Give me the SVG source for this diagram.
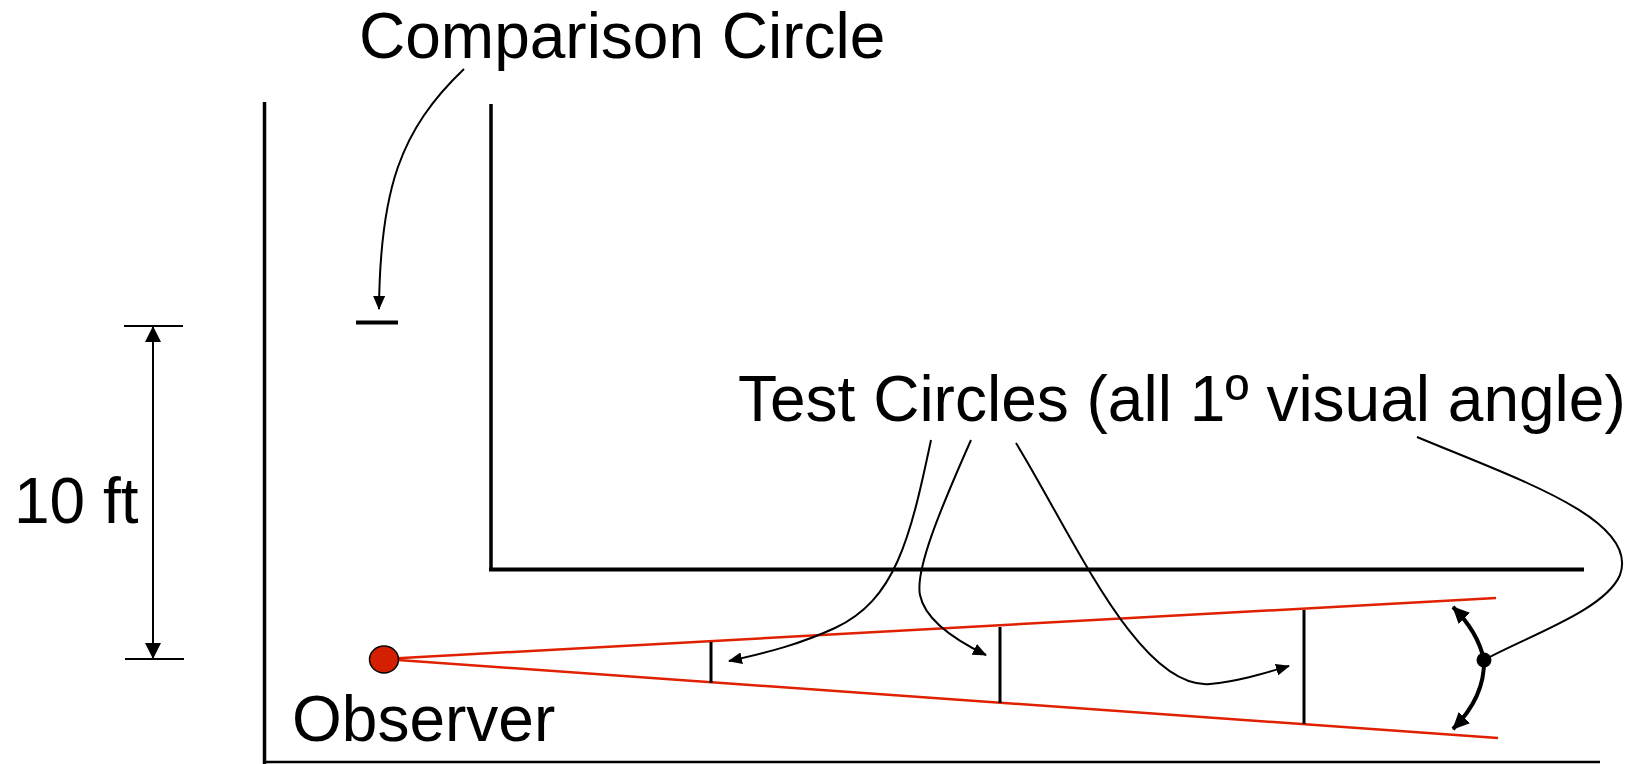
<svg xmlns="http://www.w3.org/2000/svg" width="1640" height="764" viewBox="0 0 1640 764">
<style>
text{font-family:"Liberation Sans",Arial,sans-serif;font-size:64px;fill:#000}
.wall{stroke:#000;stroke-width:3.5;fill:none}
.lead{stroke:#000;stroke-width:2;fill:none}
.ray{stroke:#e02000;stroke-width:2.5;fill:none}
.bar{stroke:#000;stroke-width:3}
</style>
<defs>
<marker id="ah" viewBox="0 0 14 12" refX="13" refY="6" markerWidth="14" markerHeight="12" markerUnits="userSpaceOnUse" orient="auto"><path d="M0,0 L14,6 L0,12 z" fill="#000"/></marker>
<marker id="ahd" viewBox="0 0 16 16" refX="15" refY="8" markerWidth="16" markerHeight="16" markerUnits="userSpaceOnUse" orient="auto-start-reverse"><path d="M0,0 L16,8 L0,16 z" fill="#000"/></marker>
<marker id="ahb" viewBox="0 0 17 16" refX="16" refY="8" markerWidth="17" markerHeight="16" markerUnits="userSpaceOnUse" orient="auto"><path d="M0,0 L17,8 L0,16 z" fill="#000"/></marker>
</defs>

<g id="room">
<line class="wall" x1="264.5" y1="102" x2="264.5" y2="764"/>
<line x1="264" y1="762" x2="1600" y2="762" stroke="#000" stroke-width="2.5"/>
<line class="wall" x1="491" y1="104" x2="491" y2="570"/>
<line x1="489" y1="569.5" x2="1584" y2="569.5" stroke="#000" stroke-width="4"/>
</g>

<g id="comparison-circle">
<line x1="356" y1="322.5" x2="398" y2="322.5" stroke="#000" stroke-width="4"/>
<text x="359" y="58">Comparison Circle</text>
</g>

<g id="dimension">
<line x1="124" y1="326" x2="183" y2="326" stroke="#000" stroke-width="2"/>
<line x1="125" y1="659" x2="184" y2="659" stroke="#000" stroke-width="2"/>
<text x="14" y="523">10 ft</text>
</g>

<g id="observer">
<line class="ray" x1="384" y1="659" x2="1496" y2="598"/>
<line class="ray" x1="384" y1="659" x2="1498" y2="738"/>
<ellipse cx="384" cy="659.5" rx="14.5" ry="13.5" fill="#d42000" stroke="#000" stroke-width="1.5"/>
<text x="292" y="741">Observer</text>
</g>

<g id="test-circles">
<line class="bar" x1="711" y1="642" x2="711" y2="683"/>
<line class="bar" x1="1000" y1="627" x2="1000" y2="703"/>
<line class="bar" x1="1304" y1="610" x2="1304" y2="724"/>
<text x="738" y="421">Test Circles (all 1º visual angle)</text>
<circle cx="1484" cy="660" r="7.5" fill="#000"/>
</g>

<g id="connectors">
<path class="lead" d="M464,69 C400,130 380,190 379,309" marker-end="url(#ah)"/>
<line x1="153" y1="327" x2="153" y2="658" stroke="#000" stroke-width="2" marker-start="url(#ahd)" marker-end="url(#ahd)"/>
<path class="lead" d="M931,440 C910,540 895,600 835,628 C800,644 770,652 729,661" marker-end="url(#ah)"/>
<path class="lead" d="M971,440 C940,510 915,570 920,595 C925,620 955,640 986,655" marker-end="url(#ah)"/>
<path class="lead" d="M1016,443 C1075,540 1140,690 1210,684 C1240,681 1265,673 1289,666" marker-end="url(#ah)"/>
<path class="lead" d="M1417,437 C1520,480 1640,520 1620,575 C1605,610 1530,635 1484,660"/>
<path d="M1484,660 Q1478,632 1453,607" stroke="#000" stroke-width="4" fill="none" marker-end="url(#ahb)"/>
<path d="M1484,660 Q1485,697 1453,729" stroke="#000" stroke-width="4" fill="none" marker-end="url(#ahb)"/>
</g>
</svg>
